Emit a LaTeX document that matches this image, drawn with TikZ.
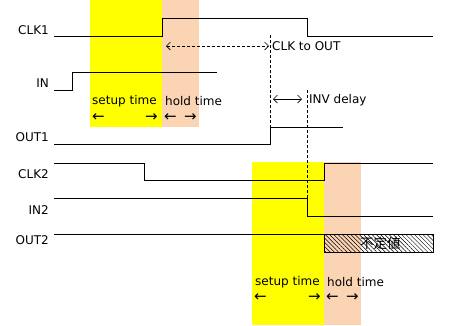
\documentclass[tikz,border=0pt]{standalone}
\usepackage{fontspec}
\setmainfont{DejaVu Sans}
\newfontfamily\jpfont{Noto Sans CJK JP}
\usetikzlibrary{arrows.meta, patterns.meta}
\definecolor{setupcol}{RGB}{255,255,0}
\definecolor{holdcol}{RGB}{251,212,180}

\begin{document}
\begin{tikzpicture}[x=1pt, y=-1pt, font=\fontsize{12}{13}\selectfont,
    sig/.style={line width=1pt},
    marker/.style={line width=0.7pt, dash pattern=on 3pt off 2pt},
    lbl/.style={anchor=east, inner sep=0pt},
    txt/.style={anchor=west, inner sep=0pt},
    arr/.style={inner sep=0pt, font=\fontsize{15}{15}\selectfont}]
    \useasboundingbox (0,0) rectangle (451,325);
    % setup / hold windows
    \fill[setupcol] (90,0) rectangle (162,127);
    \fill[holdcol] (162,0) rectangle (199,127);
    \fill[setupcol] (252,162) rectangle (324,325);
    \fill[holdcol] (324,162) rectangle (361,325);
    % signal names
    \node[lbl] (clk1) at (49,30) {CLK1};
    \node[lbl] (in) at (49,83) {IN};
    \node[lbl] (out1) at (49,137) {OUT1};
    \node[lbl] (clk2) at (49,174) {CLK2};
    \node[lbl] (in2) at (49,210) {IN2};
    \node[lbl] (out2) at (49,240) {OUT2};
    % waveforms
    \draw[sig] (54,36) -- (162,36) -- (162,18) -- (307,18) -- (307,36) -- (433,36);
    \draw[sig] (54,90) -- (72,90) -- (72,72) -- (217,72);
    \draw[sig] (54,144) -- (270,144) -- (270,127) -- (343,127);
    \draw[sig] (54,163) -- (144,163) -- (144,180) -- (324,180) -- (324,163) -- (433,163);
    \draw[sig] (54,198) -- (307,198) -- (307,216) -- (433,216);
    \draw[line width=0.8pt, pattern={Lines[angle=-45, distance=3pt, line width=0.5pt]}]
        (324,234) rectangle (433,252);
    \draw[sig] (54,234) -- (324,234);
    \node[txt, font=\fontsize{13.5}{14}\selectfont] (undef) at (360,243.5) {\jpfont 不定値};
    % timing markers
    \draw[marker] (270,35) -- (270,127);
    \draw[marker] (307,90) -- (307,198);
    \coordinate (c2o-l) at (166,46);
    \coordinate (c2o-r) at (269,46);
    \draw[marker, {Straight Barb[length=4pt]}-{Straight Barb[length=4pt]}] (c2o-l) -- (c2o-r);
    \node[txt] (c2o) at (272,46) {CLK to OUT};
    \coordinate (inv-l) at (273,99);
    \coordinate (inv-r) at (302,99);
    \draw[line width=0.7pt, {Straight Barb[length=4pt]}-{Straight Barb[length=4pt]}] (inv-l) -- (inv-r);
    \node[txt] (inv) at (309,100) {INV delay};
    % window captions 1
    \node[txt] (su1) at (92,101) {setup time};
    \node[txt] (ho1) at (165,101) {hold time};
    \node[arr, anchor=west] at (92,118) (su1l) {←};
    \node[arr, anchor=east] at (158,118) (su1r) {→};
    \node[arr, anchor=west] at (164,118) (ho1l) {←};
    \node[arr, anchor=east] at (197,118) (ho1r) {→};
    % window captions 2
    \node[txt] (su2) at (255,282) {setup time};
    \node[txt] (ho2) at (327,282) {hold time};
    \node[arr, anchor=west] at (254,298) (su2l) {←};
    \node[arr, anchor=east] at (321,298) (su2r) {→};
    \node[arr, anchor=west] at (326,298) (ho2l) {←};
    \node[arr, anchor=east] at (359,298) (ho2r) {→};
\end{tikzpicture}
\end{document}
